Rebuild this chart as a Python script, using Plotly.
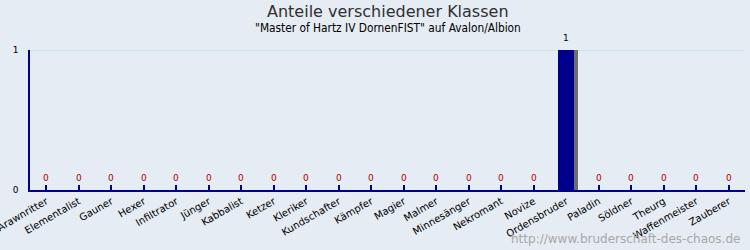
import plotly.graph_objects as go

categories = ["Arawnritter", "Elementalist", "Gauner", "Hexer", "Infiltrator", "Jünger",
              "Kabbalist", "Ketzer", "Kleriker", "Kundschafter", "Kämpfer", "Magier",
              "Malmer", "Minnesänger", "Nekromant", "Novize", "Ordensbruder", "Paladin",
              "Söldner", "Theurg", "Waffenmeister", "Zauberer"]
values = [0, 0, 0, 0, 0, 0, 0, 0, 0, 0, 0, 0, 0, 0, 0, 0, 1, 0, 0, 0, 0, 0]
y_ticks = [0, 1]

title = "Anteile verschiedener Klassen"
subtitle = '"Master of Hartz IV DornenFIST" auf Avalon/Albion'
watermark = "http://www.bruderschaft-des-chaos.de"

bg = "#E5ECF3"
xs = list(range(len(categories)))
fig = go.Figure()

# shadow bars
fig.add_trace(go.Bar(
    x=xs, y=[v * 1.022 if v else 0 for v in values],
    width=0.5, offset=-0.15, marker=dict(color="#6E6E6E", line=dict(width=0)),
    hoverinfo="skip", showlegend=False))
# main bars
fig.add_trace(go.Bar(
    x=xs, y=values,
    width=0.5, offset=-0.25, marker=dict(color="#00008B", line=dict(width=0)),
    showlegend=False))

annotations = [
    dict(text=title, x=0.5, y=1, xref="paper", yref="paper", yanchor="bottom",
         yshift=27, showarrow=False, xanchor="center",
         font=dict(family="DejaVu Sans", size=16, color="#303030")),
    dict(text=subtitle, x=0.5, y=1, xref="paper", yref="paper", yanchor="bottom",
         yshift=13, showarrow=False, xanchor="center",
         font=dict(family="DejaVu Sans Condensed", size=11.8, color="#000000")),
    dict(text=watermark, x=1, y=0, xref="paper", yref="paper", xanchor="right",
         yanchor="bottom", yshift=-58, xshift=-3, showarrow=False,
         font=dict(family="DejaVu Sans", size=12, color="#A8A8A8")),
]
for x, v in zip(xs, values):
    annotations.append(dict(
        text=str(v), x=x, y=v, xref="x", yref="y", yanchor="bottom",
        yshift=5, showarrow=False,
        font=dict(family="DejaVu Sans", size=9,
                  color="#B00000" if v == 0 else "#000000")))

fig.update_layout(
    width=750, height=250,
    margin=dict(l=30, r=5, t=50, b=60),
    paper_bgcolor=bg, plot_bgcolor=bg,
    barmode="overlay", bargap=0,
    font=dict(family="DejaVu Sans", size=9, color="#000000"),
    annotations=annotations,
    shapes=[dict(type="line", xref="paper", x0=0, x1=1, yref="y", y0=t, y1=t,
                 line=dict(color="#ADD8E6", width=1), layer="below")
            for t in y_ticks if t > 0],
)
fig.update_xaxes(
    range=[-0.5, len(categories) - 0.5], automargin=False,
    tickmode="array", tickvals=xs, ticktext=categories,
    tickangle=-30, ticks="inside", ticklen=5, tickcolor="#00008B", tickwidth=1.5,
    tickson="boundaries", showline=True, linecolor="#00008B", linewidth=1.5,
    showgrid=False, zeroline=False, fixedrange=True, ticklabeloverflow="allow",
    tickfont=dict(family="DejaVu Sans", size=10, color="#000000"))
fig.update_yaxes(
    range=[0, 1], tickvals=y_ticks, ticktext=[str(t) for t in y_ticks],
    automargin=False,
    ticks="inside", ticklen=5, tickcolor="#00008B", tickwidth=1.5,
    showline=True, linecolor="#00008B", linewidth=1.5,
    showgrid=False, zeroline=False,
    ticklabelstandoff=8,
    tickfont=dict(family="DejaVu Sans", size=9, color="#000000"))

fig.write_html("out.html")
